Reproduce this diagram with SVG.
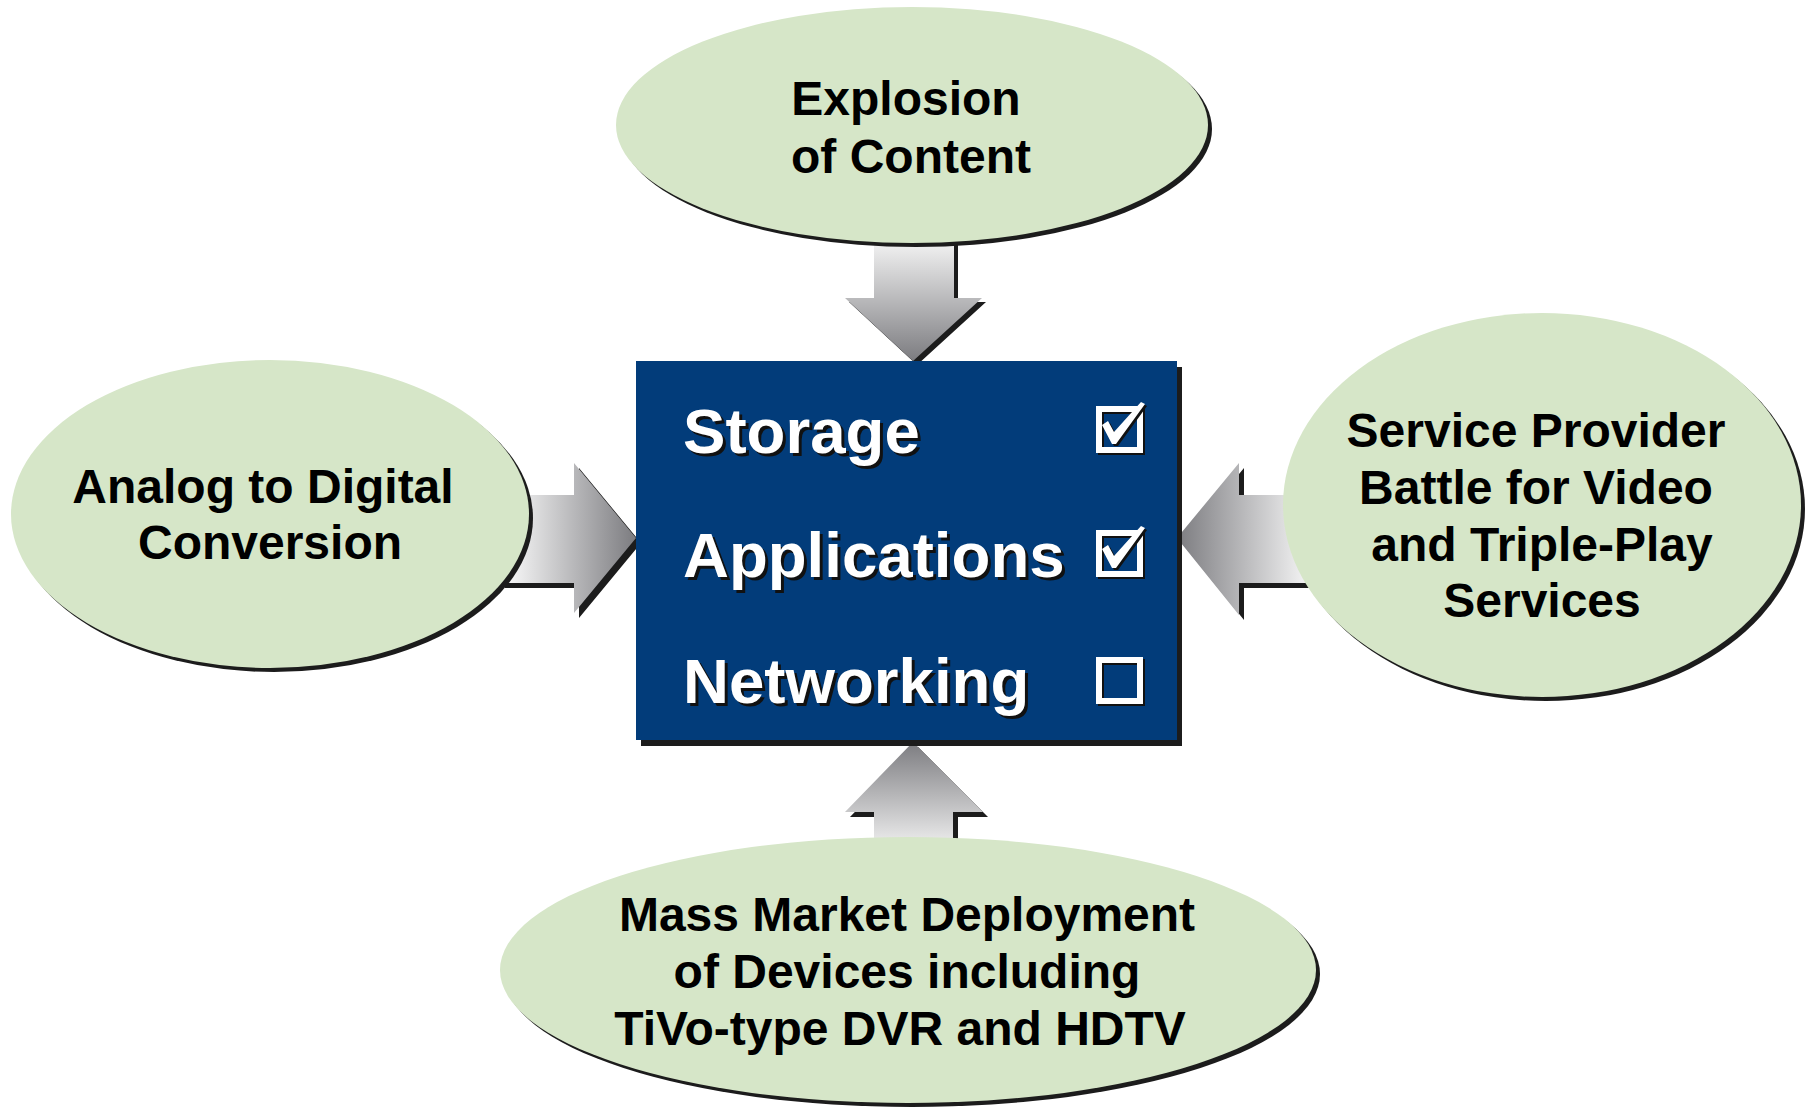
<svg xmlns="http://www.w3.org/2000/svg" width="1810" height="1107" viewBox="0 0 1810 1107">
  <defs>
    <style>
      .ell { fill: #d6e6c8; }
      .shd { fill: #1c1c1c; }
      .etxt { font-family: "Liberation Sans", Arial, sans-serif; font-weight: bold; font-size: 48px; fill: #000; text-anchor: middle; }
      .btxt { font-family: "Liberation Sans", Arial, sans-serif; font-weight: bold; font-size: 63.6px; fill: #fff; }
      .btxs { font-family: "Liberation Sans", Arial, sans-serif; font-weight: bold; font-size: 63.6px; fill: #111; }
      .cb { fill: none; stroke: #fff; stroke-width: 6; }
      .cbs { fill: none; stroke: #111; stroke-width: 6; }
    </style>
    <linearGradient id="gDown" gradientUnits="userSpaceOnUse" x1="0" y1="240" x2="0" y2="361">
      <stop offset="0" stop-color="#f4f4f4"/>
      <stop offset="1" stop-color="#7c7c80"/>
    </linearGradient>
    <linearGradient id="gUp" gradientUnits="userSpaceOnUse" x1="0" y1="742" x2="0" y2="850">
      <stop offset="0" stop-color="#7c7c80"/>
      <stop offset="1" stop-color="#f2f2f2"/>
    </linearGradient>
    <linearGradient id="gRight" gradientUnits="userSpaceOnUse" x1="500" y1="0" x2="636" y2="0">
      <stop offset="0" stop-color="#ffffff"/>
      <stop offset="1" stop-color="#7c7c80"/>
    </linearGradient>
    <linearGradient id="gLeft" gradientUnits="userSpaceOnUse" x1="1177" y1="0" x2="1320" y2="0">
      <stop offset="0" stop-color="#7c7c80"/>
      <stop offset="1" stop-color="#ffffff"/>
    </linearGradient>
    <path id="check" d="M6,19 L12,15 L18,26 L45,-4 L49,-2 L20,38 L16,38 Z"/>
  </defs>

  <g id="connectors">
    <g id="arrow-top">
      <polygon class="shd" transform="translate(4,4)" points="874,240 954,240 954,298 982,298 913,361 845,298 874,298"/>
      <polygon fill="url(#gDown)" points="874,240 954,240 954,298 982,298 913,361 845,298 874,298"/>
    </g>
    <g id="arrow-bottom">
      <polygon class="shd" transform="translate(5,5)" points="913,742 983,812 953,812 953,850 874,850 874,812 845,812"/>
      <polygon fill="url(#gUp)" points="913,742 983,812 953,812 953,850 874,850 874,812 845,812"/>
    </g>
    <g id="arrow-left">
      <polygon class="shd" transform="translate(5,5)" points="500,495 574,495 574,463 636,538 574,613 574,583 500,583"/>
      <polygon fill="url(#gRight)" points="500,495 574,495 574,463 636,538 574,613 574,583 500,583"/>
    </g>
    <g id="arrow-right">
      <polygon class="shd" transform="translate(5,5)" points="1177,538 1239,463 1239,495 1320,495 1320,583 1239,583 1239,615"/>
      <polygon fill="url(#gLeft)" points="1177,538 1239,463 1239,495 1320,495 1320,583 1239,583 1239,615"/>
    </g>
  </g>

  <g id="center-box">
    <rect class="shd" x="641" y="367" width="541" height="379"/>
    <rect x="636" y="361" width="541" height="379" fill="#023c7a"/>
    <text class="btxs" x="686" y="456">Storage</text>
    <text class="btxt" x="683" y="453">Storage</text>
    <text class="btxs" x="686" y="580">Applications</text>
    <text class="btxt" x="683" y="577">Applications</text>
    <text class="btxs" x="686" y="706">Networking</text>
    <text class="btxt" x="683" y="703">Networking</text>

    <rect class="cbs" x="1101" y="411" width="41" height="41"/>
    <rect class="cb" x="1099" y="409" width="41" height="41"/>
    <use href="#check" x="1098" y="408" fill="#111"/>
    <use href="#check" x="1096" y="406" fill="#fff"/>

    <rect class="cbs" x="1101" y="535" width="41" height="41"/>
    <rect class="cb" x="1099" y="533" width="41" height="41"/>
    <use href="#check" x="1098" y="532" fill="#111"/>
    <use href="#check" x="1096" y="530" fill="#fff"/>

    <rect class="cbs" x="1101" y="662" width="41" height="41"/>
    <rect class="cb" x="1099" y="660" width="41" height="41"/>
  </g>

  <g id="node-top">
    <ellipse class="shd" cx="916" cy="129" rx="296" ry="118"/>
    <ellipse class="ell" cx="912" cy="125" rx="296" ry="118"/>
    <text class="etxt" x="906" y="115">Explosion</text>
    <text class="etxt" x="911" y="173">of Content</text>
  </g>

  <g id="node-left">
    <ellipse class="shd" cx="274" cy="518" rx="259" ry="154"/>
    <ellipse class="ell" cx="270" cy="514" rx="259" ry="154"/>
    <text class="etxt" x="263" y="503">Analog to Digital</text>
    <text class="etxt" x="270" y="559">Conversion</text>
  </g>

  <g id="node-right">
    <ellipse class="shd" cx="1546" cy="509" rx="259" ry="192"/>
    <ellipse class="ell" cx="1542" cy="505" rx="259" ry="192"/>
    <text class="etxt" x="1536" y="447">Service Provider</text>
    <text class="etxt" x="1536" y="504">Battle for Video</text>
    <text class="etxt" x="1542" y="561">and Triple-Play</text>
    <text class="etxt" x="1542" y="617">Services</text>
  </g>

  <g id="node-bottom">
    <ellipse class="shd" cx="912" cy="974" rx="408" ry="133"/>
    <ellipse class="ell" cx="908" cy="970" rx="408" ry="133"/>
    <text class="etxt" x="907" y="931">Mass Market Deployment</text>
    <text class="etxt" x="907" y="988">of Devices including</text>
    <text class="etxt" x="900" y="1045">TiVo-type DVR and HDTV</text>
  </g>
</svg>
